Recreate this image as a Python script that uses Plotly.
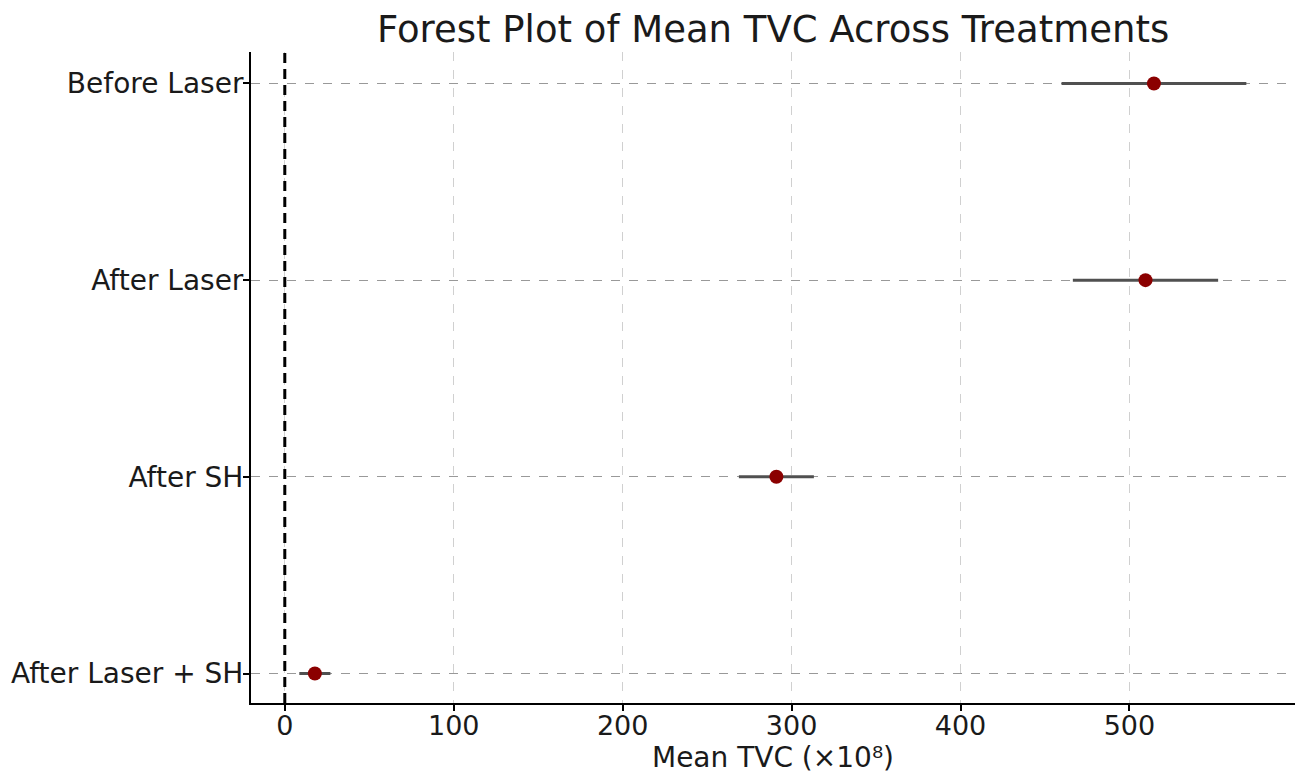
import plotly.graph_objects as go

treatments = ["Before Laser", "After Laser", "After SH", "After Laser + SH"]
mean_tvc = [514.5, 509.5, 291.0, 17.8]
ci_half = [54.7, 43.0, 22.2, 9.2]
x_ticks = [0, 100, 200, 300, 400, 500]

ypos = [3, 2, 1, 0]

fig = go.Figure()
fig.add_trace(go.Scatter(
    x=mean_tvc, y=ypos, mode="markers",
    marker=dict(color="#8B0000", size=14),
    error_x=dict(type="data", array=ci_half, visible=True, color="#505050",
                 thickness=3, width=0),
    showlegend=False,
))

fig.add_shape(type="line", x0=0, x1=0, y0=0, y1=1, yref="paper", xref="x",
              line=dict(color="black", width=3, dash="10px,6px"))

fig.update_layout(
    width=1295, height=777,
    margin=dict(l=251, r=0, t=52, b=74),
    plot_bgcolor="white", paper_bgcolor="white",
    font=dict(family="DejaVu Sans", color="#1a1a1a", size=28),
    title=dict(text="Forest Plot of Mean TVC Across Treatments", x=0.597, xanchor="center",
               y=0.963, yanchor="middle", font=dict(size=37)),
    xaxis=dict(range=[-20, 598], tickvals=x_ticks, showline=True, linecolor="black",
               linewidth=2, ticks="outside", ticklen=6, tickwidth=1.5, tickcolor="black",
               showgrid=True, gridcolor="#d0d0d0", griddash="dash", gridwidth=1,
               zeroline=False, mirror=False, tickfont=dict(size=27), ticklabelstandoff=-8,
               title=dict(text="Mean TVC (×10⁸)", font=dict(size=28), standoff=4)),
    yaxis=dict(range=[-0.15, 3.16], tickvals=ypos, ticktext=treatments, showline=True,
               linecolor="black", linewidth=2, ticks="outside", ticklen=6, tickwidth=1.5,
               tickcolor="black", showgrid=True, gridcolor="#999999", griddash="dash",
               gridwidth=1, zeroline=False, tickfont=dict(size=28), ticklabelstandoff=-6),
)

fig.write_html("out.html")
